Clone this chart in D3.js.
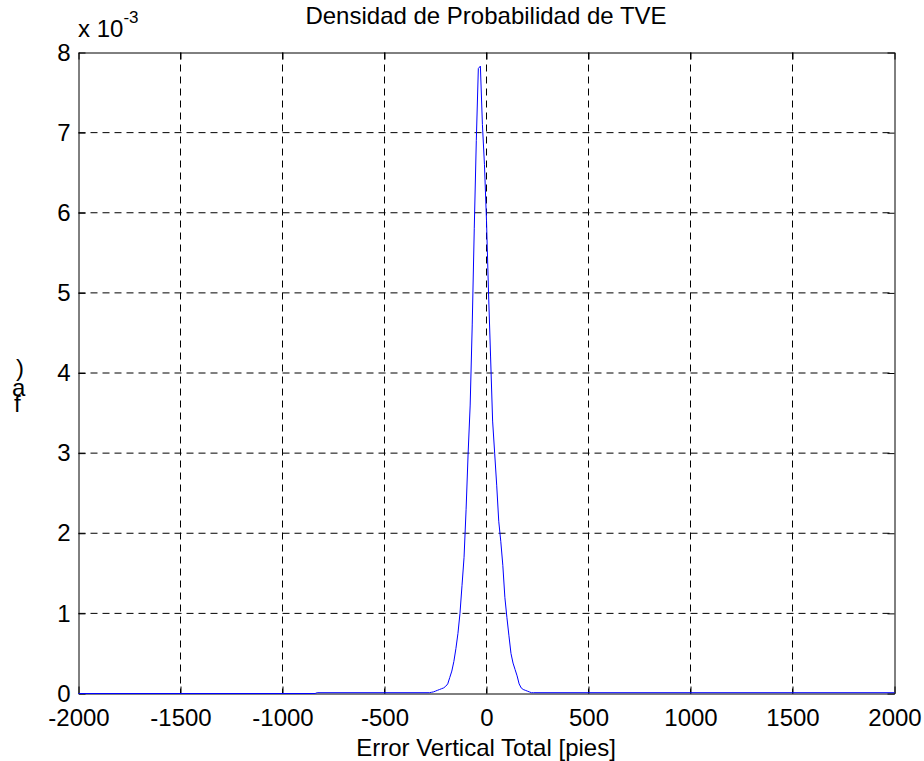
<!DOCTYPE html>
<html>
<head>
<meta charset="utf-8">
<script src="https://cdn.jsdelivr.net/npm/d3@7"></script>
<style>
  body { margin: 0; background: #fff; }
  svg { display: block; font-family: "Liberation Sans", Arial, sans-serif; }
</style>
</head>
<body>
<div id="plot-div"></div>
<script>
// error (ft) and density (x 1e-3)
const errorFt = [
  -2000, -840, -830,
  -280, -270, -260, -250, -240, -230, -220, -210, -200, -190, -180, -170, -160, -150,
  -140, -130, -120, -110, -100, -90, -80, -70, -60, -50, -40, -30, -20, -10,
  0, 10, 20, 30, 40, 50, 60, 70, 80, 90, 100, 110, 120, 130, 140, 150,
  160, 170, 180, 190, 200, 210, 220, 230,
  2000
]
const density = [
  0, 0, 0.01,
  0.01, 0.015, 0.02, 0.03, 0.04, 0.05, 0.06, 0.07, 0.09, 0.12, 0.2, 0.28, 0.4, 0.56,
  0.75, 1.0, 1.35, 1.7, 2.3, 3.0, 3.6, 4.6, 5.8, 6.9, 7.8, 7.83, 7.1, 6.6,
  5.9, 5.0, 4.2, 3.4, 3.0, 2.6, 2.15, 1.9, 1.6, 1.2, 0.95, 0.72, 0.5, 0.38, 0.3, 0.22,
  0.12, 0.07, 0.05, 0.04, 0.03, 0.02, 0.01, 0.01,
  0.01
]
const xTicks = [-2000, -1500, -1000, -500, 0, 500, 1000, 1500, 2000]
const yTicks = [0, 1, 2, 3, 4, 5, 6, 7, 8]

const W = 924
const H = 761
const margin = { top: 52, right: 30, bottom: 68, left: 78 }
const w = W - margin.left - margin.right
const h = H - margin.top - margin.bottom

const svg = d3.select('#plot-div')
  .append('svg')
  .attr('width', W)
  .attr('height', H)

const g = svg.append('g')
  .attr('transform', `translate(${margin.left + 0.5}, ${margin.top + 0.5})`)

const x = d3.scaleLinear().domain([-2000, 2000]).range([0, w])
const y = d3.scaleLinear().domain([0, 8]).range([h, 0])
const plain = d => `${d}`

// dashed grid
g.selectAll('line.gx').data(xTicks.slice(1, -1))
  .enter().append('line')
  .attr('class', 'gx')
  .attr('x1', d => x(d)).attr('x2', d => x(d))
  .attr('y1', 0).attr('y2', h)
  .attr('stroke', '#000').attr('stroke-dasharray', '7,5')

g.selectAll('line.gy').data(yTicks.slice(1, -1))
  .enter().append('line')
  .attr('class', 'gy')
  .attr('x1', 0).attr('x2', w)
  .attr('y1', d => y(d)).attr('y2', d => y(d))
  .attr('stroke', '#000').attr('stroke-dasharray', '7,5')

// axes, ticks pointing in
const fontSize = '24px'
const bottom = g.append('g')
  .attr('transform', `translate(0, ${h})`)
  .call(d3.axisBottom(x).tickValues(xTicks).tickFormat(plain).tickSizeInner(-7).tickSizeOuter(0).tickPadding(15))
const left = g.append('g')
  .call(d3.axisLeft(y).tickValues(yTicks).tickFormat(plain).tickSizeInner(-7).tickSizeOuter(0).tickPadding(8))
g.append('g')
  .call(d3.axisTop(x).tickValues(xTicks).tickSizeInner(-7).tickSizeOuter(0).tickFormat(''))
g.append('g')
  .attr('transform', `translate(${w}, 0)`)
  .call(d3.axisRight(y).tickValues(yTicks).tickSizeInner(-7).tickSizeOuter(0).tickFormat(''))

g.selectAll('.domain').attr('stroke', '#000')
g.selectAll('.tick line').attr('stroke', '#000')
bottom.selectAll('text').attr('font-size', fontSize).attr('fill', '#000')
  .attr('font-family', '"Liberation Sans", Arial, sans-serif')
left.selectAll('text').attr('font-size', fontSize).attr('fill', '#000')
  .attr('font-family', '"Liberation Sans", Arial, sans-serif')

// density curve
const line = d3.line()
  .x(d => x(d[0]))
  .y(d => y(d[1]))

g.append('path')
  .datum(d3.zip(errorFt, density))
  .attr('d', line)
  .attr('fill', 'none')
  .attr('stroke', '#0000ff')
  .attr('stroke-width', 1)

// texts
svg.append('text')
  .attr('x', margin.left + w / 2).attr('y', 24)
  .attr('text-anchor', 'middle').attr('font-size', fontSize)
  .text('Densidad de Probabilidad de TVE')

svg.append('text')
  .attr('x', margin.left + w / 2).attr('y', 756)
  .attr('text-anchor', 'middle').attr('font-size', fontSize)
  .text('Error Vertical Total [pies]')

const expo = svg.append('text')
  .attr('x', margin.left).attr('y', 37)
  .attr('font-size', fontSize)
expo.append('tspan').text('x 10')
expo.append('tspan').attr('dy', -14).attr('font-size', '17px').text('-3')

// garbled ylabel glyphs as they appear
const ylab = [[')', 16, 376], ['a', 12, 396], ['f', 14, 412]]
svg.selectAll('text.ylab').data(ylab)
  .enter().append('text')
  .attr('class', 'ylab')
  .attr('x', d => d[1]).attr('y', d => d[2])
  .attr('font-size', fontSize)
  .text(d => d[0])
</script>
</body>
</html>
